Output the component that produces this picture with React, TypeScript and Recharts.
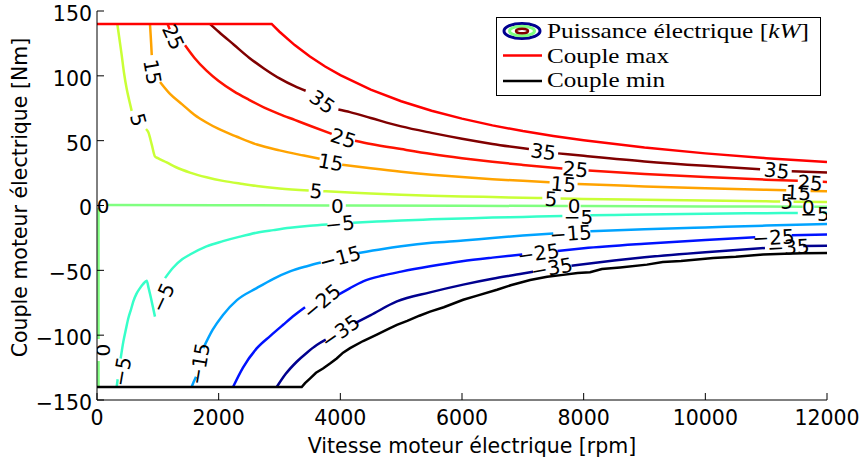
import React from 'react';
import { ComposedChart, Line, Scatter, XAxis, YAxis, Label } from 'recharts';

type Pt = [number, number];

const rpmTicks = [0, 2000, 4000, 6000, 8000, 10000, 12000];
const nmTicks = [-150, -100, -50, 0, 50, 100, 150];

// torque envelope [rpm, Nm]
const coupleMax: Pt[] = [
  [0, 140], [2871, 140], [3000, 134], [3250, 123.7], [3500, 114.9], [3750, 107.2], [4000, 100.5],
  [4500, 89.3], [5000, 80.4], [5500, 73.1], [6000, 67], [6500, 61.8], [7000, 57.4], [7500, 53.6],
  [8000, 50.3], [9000, 44.7], [10000, 40.2], [11000, 36.5], [12000, 33.5],
];
const coupleMin: Pt[] = [
  [0, -140], [3365, -140], [3420, -137], [3500, -133.5], [3600, -129], [3715, -125.7], [3830, -121.9],
  [3940, -118], [4045, -113.5], [4160, -110], [4375, -104.5], [4600, -99.5], [4800, -95], [4930, -92],
  [5100, -89], [5300, -85], [5475, -81.8], [5700, -78.5], [6020, -72.7], [6250, -69.5], [6575, -65],
  [6800, -61.5], [7120, -57.5], [7400, -55], [7660, -53.5], [7900, -52], [8105, -51.5], [8300, -49],
  [8600, -47.8], [9040, -45.6], [9300, -43.5], [9600, -42.8], [10130, -40.4], [10500, -39.5],
  [10950, -37.8], [11300, -37.2], [11600, -36.8], [12000, -36.6],
];

// iso electrical power contours (kW), one array per visible piece (gaps = inline labels)
const p35: Pt[][] = [
  [[1858, 140], [2000, 134], [2250, 124], [2500, 114], [2750, 105.5], [3000, 98], [3250, 92], [3430, 88.5]],
  [[3968, 74], [4159, 72], [4500, 67.5], [5000, 61], [5500, 56], [6000, 51.5], [6500, 47.5], [7100, 43.5]],
  [[7580, 40.2], [8000, 38.3], [9000, 34], [10000, 30.6], [10900, 28]],
  [[11420, 26.4], [12000, 25.4]],
];
const p25: Pt[][] = [
  [[1160, 140], [1195, 136]],
  [[1447, 123.6], [1600, 114], [1800, 104], [2000, 96], [2250, 88], [2500, 81.5], [2750, 75.5],
    [3000, 70.5], [3250, 66], [3500, 61.5], [3858, 55.2]],
  [[4241, 50], [4500, 47.5], [5000, 43.5], [5500, 39.7], [6000, 36.5], [6500, 33.7], [7000, 31.3], [7650, 28.5]],
  [[8080, 27], [9000, 24.3], [10000, 21.9], [11000, 19.9], [11520, 19]],
  [[11930, 18.3], [12000, 18.2]],
];
const p15: Pt[][] = [
  [[871, 140], [880, 133], [890, 125], [900, 116]],
  [[1036, 95.2], [1200, 86], [1400, 78], [1600, 70], [1800, 64], [2000, 59], [2300, 53], [2630, 47],
    [3000, 42.5], [3400, 38.5], [3660, 36]],
  [[4030, 31.5], [4500, 28.7], [5000, 26], [5500, 23.8], [6000, 22], [6500, 20.3], [7000, 19], [7440, 18]],
  [[7900, 16.6], [8500, 15.6], [9000, 14.7], [10000, 13.3], [11000, 12.1], [11330, 11.7]],
  [[11730, 11.2], [12000, 10.9]],
];
const p5: Pt[][] = [
  [[334, 140], [370, 128], [406, 116], [445, 102], [488, 90], [530, 81], [570, 73]],
  [[806, 59], [844, 56.4], [900, 47], [954, 37.8], [1000, 36.5], [1145, 33.2], [1300, 29.5], [1529, 25.4],
    [1800, 21.8], [2071, 19], [2400, 16.6], [2625, 15.1], [3000, 13.2], [3480, 11.6]],
  [[3720, 11], [4000, 10.4], [4500, 9.2], [5000, 8.3], [5500, 7.6], [6000, 7], [6500, 6.5], [7000, 6], [7320, 5.7]],
  [[7620, 5.4], [8000, 5.1], [9000, 4.4], [10000, 3.8], [11000, 3.2], [11230, 3.1]],
  [[11450, 2.9], [12000, 2.7]],
];
const p0: Pt[][] = [
  [[25, -2], [25, -103]],
  [[25, -120], [25, -140]],
  [[180, 0.3], [2000, 0.2], [3820, 0]],
  [[4090, 0], [6000, -0.2], [7740, -0.4]],
  [[7950, -0.4], [10000, -0.7], [11600, -0.9]],
  [[11790, -1], [12000, -1]],
];
const m5: Pt[][] = [
  [[323, -140], [340, -134]],
  [[389, -118], [433, -105], [475, -95.5], [515, -87], [560, -80], [597, -74], [650, -68], [707, -63.7],
    [760, -60.5], [817, -58], [850, -64], [888, -71.5], [920, -78.5], [953, -85.7]],
  [[1118, -56], [1250, -48], [1400, -41.5], [1529, -37.8], [1800, -31.5], [2071, -27.5], [2350, -24],
    [2625, -21], [2900, -19], [3173, -17.2], [3500, -15.6], [3790, -14.6]],
  [[4210, -13.3], [4600, -12.4], [5000, -11.5], [5500, -10.7], [6000, -10], [6500, -9.3], [7000, -8.8], [7650, -8.1]],
  [[8110, -7.6], [8500, -7.3], [9000, -6.9], [10000, -6.3], [11000, -5.9], [11520, -5.7]],
  [[11930, -5.6], [12000, -5.6]],
];
const m15: Pt[][] = [
  [[1556, -140], [1590, -136], [1628, -132]],
  [[1748, -110], [1900, -96], [2071, -84.4], [2300, -73], [2625, -63.7], [2900, -56.5], [3173, -50.8],
    [3450, -46.8], [3680, -44]],
  [[4300, -36.6], [4700, -33.5], [5000, -31.5], [5500, -28.8], [6020, -27], [6500, -25], [7000, -23.2], [7500, -21.6]],
  [[8110, -19.8], [9000, -18.3], [10000, -16.9], [11000, -15.5], [12000, -14.2]],
];
const m25: Pt[][] = [
  [[2236, -140], [2400, -125], [2625, -110.2], [2850, -100.5], [3060, -92], [3250, -84.5], [3420, -78.5]],
  [[3968, -68.8], [4160, -63.7], [4375, -58.5], [4700, -54], [5000, -51], [5475, -46.9], [6000, -43],
    [6500, -40.2], [6990, -37.8]],
  [[7570, -35], [8000, -33], [9000, -29.5], [10000, -26.6], [10820, -24.5]],
  [[11420, -23], [12000, -22.4]],
];
const m35: Pt[][] = [
  [[2954, -140], [3100, -130], [3283, -120.5], [3450, -113.5], [3612, -107.6], [3760, -103.5]],
  [[4240, -90.8], [4500, -84.5], [4930, -74], [5475, -67], [6020, -61], [6500, -56.5], [7000, -52.5], [7170, -51]],
  [[7800, -46.5], [8500, -42.5], [9000, -40], [10000, -36], [10980, -32.8]],
  [[11610, -31.3], [12000, -31]],
];

const levels = [35, 25, 15, 5, 0, -5, -15, -25, -35];
const levelPieces = [p35, p25, p15, p5, p0, m5, m15, m25, m35];
const levelColors = ['#800000', '#ff1200', '#ffa300', '#c9ff36', '#80ff80', '#36ffc9', '#00a3ff', '#0012ff', '#00008f'];

// inline labels: [rpm, Nm, level, angle]
const contourLabels: [number, number, number, number][] = [
  [1254, 130, 25, 65], [915, 103, 15, 80], [680, 66, 5, 75],
  [3705, 80, 35, 35], [4050, 52, 25, 18], [3842, 33.5, 15, 10], [3600, 11.2, 5, 6], [3951, -0.5, 0, 0],
  [3995, -14, -5, -6], [3995, -40, -15, -15], [3694, -74, -25, -40], [4000, -97, -35, -35],
  [99, -0.5, 0, 0], [94, -111.5, 0, -90], [406, -128, -5, -80], [1080, -71, -5, -65], [1682, -122, -15, -80],
  [7337, 41.5, 35, 8], [7866, 28, 25, 6], [7666, 16.5, 15, 5], [7464, 5, 5, 3], [7842, -0.4, 0, 0],
  [7913, -8.5, -5, 0], [7788, -21.5, -15, -4], [7255, -36.6, -25, -8], [7475, -48, -35, -10],
  [11174, 27, 35, 6], [11722, 17.5, 25, 4], [11530, 10, 15, 3], [11339, 3, 5, 2], [11694, -1, 0, 0],
  [11804, -6.5, -5, 0], [11119, -24.5, -25, -3], [11366, -32, -35, -3],
];

const fmt = (v: number) => (v < 0 ? `\u2212${-v}` : `${v}`);
const toRows = (pts: Pt[]) => pts.map(([x, y]) => ({ x, y }));
const joinPieces = (pieces: Pt[][]) => {
  const rows: { x: number; y: number | null }[] = [];
  pieces.forEach((p, i) => {
    if (i > 0) rows.push({ x: p[0][0], y: null });
    rows.push(...toRows(p));
  });
  return rows;
};

const contours = levels.map((lvl, i) => ({ lvl, color: levelColors[i], data: joinPieces(levelPieces[i]) }));
const labelRows = contourLabels.map(([x, y, l, a]) => ({ x, y, t: fmt(l), a }));

const SANS = '"DejaVu Sans", Arial, sans-serif';
const SERIF = '"Liberation Serif", "Times New Roman", serif';
const TICK_LEN = 7;

const BottomTick = (p: any) => {
  const ay = p.y - 10;
  return (
    <g>
      <line x1={p.x} x2={p.x} y1={ay} y2={ay - TICK_LEN} stroke="#000" />
      <text x={p.x} y={p.y} dy="0.75em" textAnchor="middle" fontSize={20.5} fontFamily={SANS} fill="#000">
        {fmt(p.payload.value)}
      </text>
    </g>
  );
};
const LeftTick = (p: any) => {
  const ax = p.x + 5;
  return (
    <g>
      <line x1={ax} x2={ax + TICK_LEN} y1={p.y} y2={p.y} stroke="#000" />
      <text x={p.x} y={p.y} dy="0.48em" textAnchor="end" fontSize={20.5} fontFamily={SANS} fill="#000">
        {fmt(p.payload.value)}
      </text>
    </g>
  );
};
const TopTick = (p: any) => <line x1={p.x} x2={p.x} y1={p.y} y2={p.y + TICK_LEN} stroke="#000" />;
const RightTick = (p: any) => <line x1={p.x} x2={p.x - TICK_LEN} y1={p.y} y2={p.y} stroke="#000" />;

const ContourLabel = (p: any) => {
  const d = p.payload ?? p;
  const { cx, cy } = p;
  return (
    <text x={cx} y={cy} dy="0.36em" textAnchor="middle" fontSize={20} fontFamily={SANS} fill="#000"
      transform={`rotate(${d.a} ${cx} ${cy})`}>
      {d.t}
    </text>
  );
};

const LegendBox = () => (
  <svg width={326} height={80} style={{ position: 'absolute', left: 496, top: 17 }}>
    <rect x={0.5} y={0.5} width={324} height={78} fill="#fff" stroke="#000" />
    <ellipse cx={26} cy={14} rx={18} ry={7.5} fill="none" stroke="#00008f" strokeWidth={3} />
    <ellipse cx={26} cy={14} rx={12.5} ry={4.8} fill="none" stroke="#80ff80" strokeWidth={3} />
    <ellipse cx={26} cy={14} rx={6} ry={2.3} fill="none" stroke="#800000" strokeWidth={2.5} />
    <line x1={7} x2={46} y1={38.5} y2={38.5} stroke="#ff0000" strokeWidth={2.5} />
    <line x1={7} x2={46} y1={64} y2={64} stroke="#000" strokeWidth={2.5} />
    <g fontFamily={SERIF} fontSize={21.5} fill="#000">
      <text x={51} y={21} textLength={262} lengthAdjust="spacingAndGlyphs">
        Puissance électrique [<tspan fontStyle="italic">kW</tspan>]
      </text>
      <text x={51} y={45.5} textLength={122} lengthAdjust="spacingAndGlyphs">Couple max</text>
      <text x={51} y={70} textLength={118} lengthAdjust="spacingAndGlyphs">Couple min</text>
    </g>
  </svg>
);

export default function App() {
  return (
    <div style={{ position: 'absolute', left: 0, top: 0, width: 861, height: 468, background: '#fff' }}>
      <ComposedChart width={861} height={468} margin={{ top: 11, right: 34, bottom: 0, left: 0 }}>
        <XAxis dataKey="x" type="number" domain={[0, 12000]} ticks={rpmTicks} interval={0} allowDataOverflow
          height={68} tickSize={0} tickMargin={10} tickLine={false} tick={<BottomTick />}
          axisLine={{ stroke: '#000' }}>
          <Label content={(lp: any) => {
            const vb = lp.viewBox;
            return (
              <text x={vb.x + vb.width / 2 + 10} y={vb.y + 46} dy="0.36em" textAnchor="middle"
                fontSize={20.5} fontFamily={SANS} fill="#000">
                Vitesse moteur électrique [rpm]
              </text>
            );
          }} />
        </XAxis>
        <XAxis xAxisId="top" orientation="top" type="number" domain={[0, 12000]} ticks={rpmTicks} interval={0}
          allowDataOverflow height={0} tickSize={0} tickMargin={0} tickLine={false} tick={<TopTick />}
          axisLine={{ stroke: '#000' }} />
        <YAxis dataKey="y" type="number" domain={[-150, 150]} ticks={nmTicks} interval={0} allowDataOverflow
          width={97} tickSize={0} tickMargin={5} tickLine={false} tick={<LeftTick />}
          axisLine={{ stroke: '#000' }}>
          <Label content={(lp: any) => {
            const vb = lp.viewBox;
            const cx = vb.x + 20;
            const cy = vb.y + vb.height / 2 - 8;
            return (
              <text x={cx} y={cy} dy="0.36em" textAnchor="middle" fontSize={20.5} fontFamily={SANS} fill="#000"
                transform={`rotate(-90 ${cx} ${cy})`}>
                Couple moteur électrique [Nm]
              </text>
            );
          }} />
        </YAxis>
        <YAxis yAxisId="right" orientation="right" type="number" domain={[-150, 150]} ticks={nmTicks} interval={0}
          allowDataOverflow width={0} tickSize={0} tickMargin={0} tickLine={false} tick={<RightTick />}
          axisLine={{ stroke: '#000' }} />

        {contours.map((c) => (
          <Line key={c.lvl} data={c.data} dataKey="y" stroke={c.color} strokeWidth={2.5} dot={false}
            activeDot={false} type={c.lvl === 0 ? 'linear' : 'monotone'} connectNulls={false}
            isAnimationActive={false} />
        ))}
        <Line data={toRows(coupleMax)} dataKey="y" stroke="#ff0000" strokeWidth={2.5} dot={false}
          activeDot={false} type="linear" isAnimationActive={false} />
        <Line data={toRows(coupleMin)} dataKey="y" stroke="#000" strokeWidth={2.5} dot={false}
          activeDot={false} type="linear" isAnimationActive={false} />
        <Scatter data={labelRows} dataKey="y" shape={<ContourLabel />} isAnimationActive={false} />
      </ComposedChart>
      <LegendBox />
    </div>
  );
}
